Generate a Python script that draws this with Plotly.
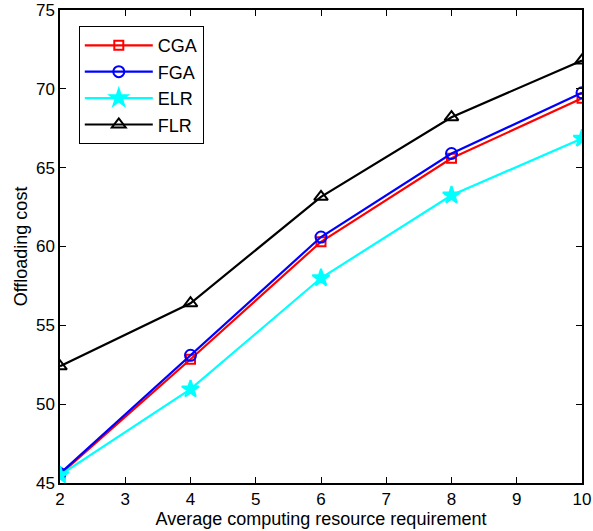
import plotly.graph_objects as go

x_vals = [2, 4, 6, 8, 10]
cga = [45.55, 52.85, 60.3, 65.6, 69.4]
fga = [45.6, 53.1, 60.6, 65.9, 69.75]
elr = [45.5, 50.95, 58.0, 63.25, 66.85]
flr = [52.4, 56.4, 63.15, 68.2, 71.8]

series = [
    ("CGA", cga, "#ff0000", "square-open", 9),
    ("FGA", fga, "#0000ff", "circle-open", 11),
    ("ELR", elr, "#00ffff", "star", 13),
    ("FLR", flr, "#000000", "triangle-up-open", 12),
]

fig = go.Figure()
for name, ys, col, sym, sz in series:
    fig.add_trace(go.Scatter(
        x=x_vals, y=ys, name=name, mode="lines+markers",
        line=dict(color=col, width=2.2),
        marker=dict(symbol=sym, size=sz, color=col, line=dict(color=col, width=2)),
    ))

axis_common = dict(
    showline=True, linecolor="black", linewidth=1.5, mirror="allticks",
    ticks="inside", ticklen=6, tickcolor="black", tickwidth=1,
    showgrid=False, zeroline=False, ticklabeloverflow="allow", automargin=False,
    tickfont=dict(family="Liberation Sans, Arial", size=17, color="black"),
)

fig.update_layout(
    width=593, height=531,
    margin=dict(l=60, r=11, t=10, b=48),
    paper_bgcolor="white", plot_bgcolor="white",
    font=dict(family="Liberation Sans, Arial", color="black"),
    xaxis=dict(range=[2, 10], dtick=1,
               title=dict(text="Average computing resource requirement", font=dict(size=18), standoff=2),
               **axis_common),
    yaxis=dict(range=[45, 75], dtick=5,
               title=dict(text="Offloading cost", font=dict(size=18), standoff=4),
               **axis_common),
    legend=dict(x=0.036, y=0.966, xanchor="left", yanchor="top",
                bordercolor="black", borderwidth=1, bgcolor="white",
                font=dict(size=18), itemwidth=68, tracegroupgap=0),
    showlegend=True,
)

# remove the browser's default 8px body margin so the figure sits at the page origin
fig.write_html("out.html", config={"displayModeBar": False},
               post_script="document.body.style.margin='0';")
